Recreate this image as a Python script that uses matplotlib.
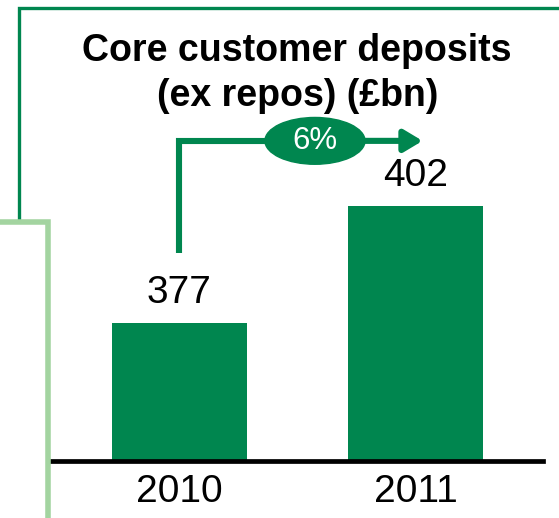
import matplotlib.pyplot as plt
from matplotlib.lines import Line2D
from matplotlib.patches import Ellipse

plt.rcParams['font.family'] = ['Liberation Sans', 'DejaVu Sans']

years = ["2010", "2011"]
deposits = [377, 402]
growth_label = "6%"
title_lines = ["Core customer deposits", "(ex repos) (£bn)"]

green = "#00864F"
light_green = "#A3D4A0"

W, H = 559, 518
fig = plt.figure(figsize=(W / 100, H / 100), dpi=100)

# axes placed so the baseline sits near the bottom of the panel
ax = fig.add_axes([52 / W, (H - 460.5) / H, (543 - 52) / W, 460.5 / H])
x = range(len(years))
bars = ax.bar(x, deposits, width=0.572, color=green, zorder=2)
ax.set_xlim(-0.54, 1.54)
ax.set_ylim(347.6, 446)

for spine in ["top", "right", "left"]:
    ax.spines[spine].set_visible(False)
ax.spines["bottom"].set_linewidth(3.4)
ax.spines["bottom"].set_color("black")
ax.spines["bottom"].set_zorder(3)
ax.set_yticks([])
ax.set_xticks(list(x))
ax.set_xticklabels(years, fontsize=28)
ax.tick_params(axis="x", length=0, pad=10)
ax.patch.set_alpha(0)

for b, v in zip(bars, deposits):
    ax.annotate(str(v), (b.get_x() + b.get_width() / 2, v), xytext=(0, 14.5),
                textcoords="offset points", ha="center", va="baseline", fontsize=28)

# growth arrow from the 2010 label up and across to 2011
y_arrow = 415.9
ax.plot([0, 0, 0.6], [391.9, y_arrow, y_arrow], color=green, lw=4.4,
        solid_joinstyle="miter", solid_capstyle="butt", zorder=3)
ax.annotate("", xy=(1.03, y_arrow), xytext=(0.5, y_arrow),
            arrowprops=dict(arrowstyle="-|>,head_length=1.0,head_width=0.6",
                            mutation_scale=11, lw=4.4, color=green,
                            shrinkA=0, shrinkB=0), zorder=3)
ax.add_patch(Ellipse((0.574, y_arrow), 0.424, 10.0, color=green, zorder=4,
                     clip_on=False))
ax.text(0.574, y_arrow, growth_label, ha="center", va="center", fontsize=22.5,
        color="white", zorder=5)

# title
fig.text(297 / W, 1 - 61 / H, title_lines[0], ha="center", va="baseline",
         fontsize=27, fontweight="bold")
fig.text(298 / W, 1 - 106 / H, title_lines[1], ha="center", va="baseline",
         fontsize=27, fontweight="bold")

# panel frame lines
fig.add_artist(Line2D([18.5 / W, 18.5 / W, 1], [1 - 220 / H, 1 - 8 / H, 1 - 8 / H],
                      color=green, lw=2.4, solid_joinstyle="miter"))
fig.add_artist(Line2D([0, 48 / W, 48 / W], [1 - 222 / H, 1 - 222 / H, 0],
                      color=light_green, lw=4, solid_joinstyle="miter"))

fig.savefig("out.png", dpi=100)
